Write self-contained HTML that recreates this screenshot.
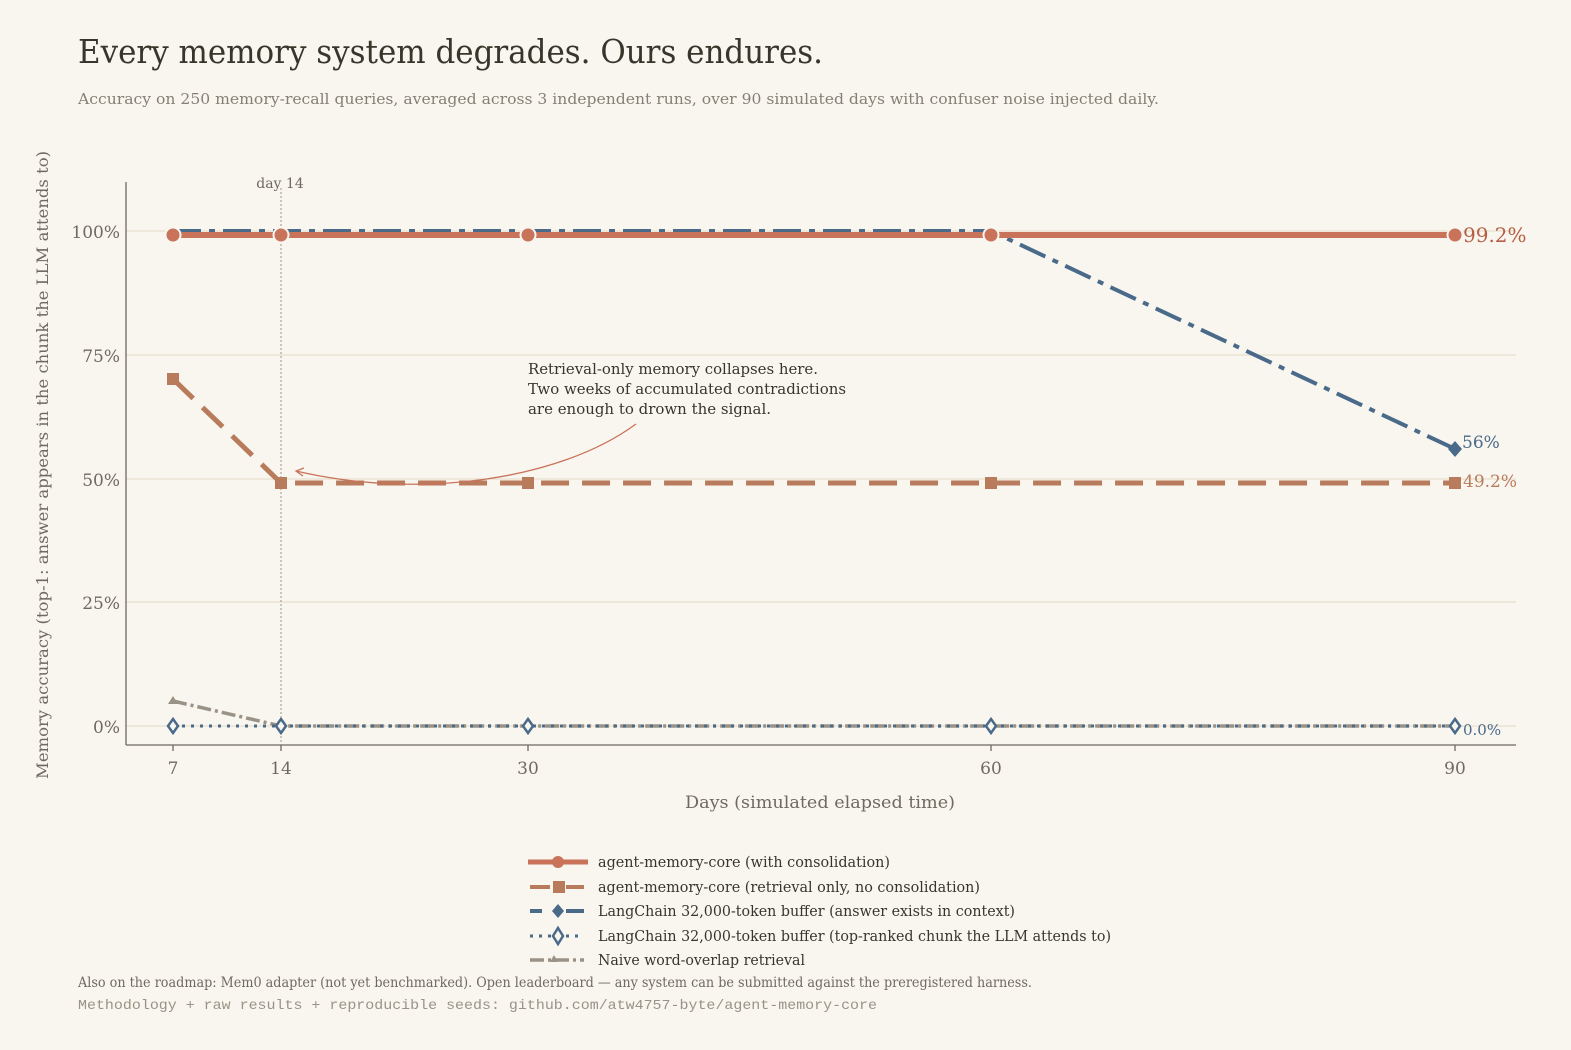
<!DOCTYPE html><html><head><style>body{margin:0;background:#f9f6ef}svg{display:block}text{font-family:"DejaVu Serif","Liberation Serif",serif}</style></head><body>
<svg width="1571" height="1050" viewBox="0 0 1571 1050" xmlns="http://www.w3.org/2000/svg">
<rect width="1571" height="1050" fill="#f9f6ef"/>
<text x="78" y="63" font-size="33" fill="#38362b" textLength="745" lengthAdjust="spacingAndGlyphs">Every memory system degrades. Ours endures.</text>
<text x="78" y="104" font-size="15" fill="#857f74" textLength="1081" lengthAdjust="spacingAndGlyphs">Accuracy on 250 memory-recall queries, averaged across 3 independent runs, over 90 simulated days with confuser noise injected daily.</text>
<g stroke="#e6dfcc" stroke-width="1.2">
<line x1="126" y1="231" x2="1516" y2="231"/><line x1="126" y1="355" x2="1516" y2="355"/><line x1="126" y1="479" x2="1516" y2="479"/><line x1="126" y1="602" x2="1516" y2="602"/><line x1="126" y1="726" x2="1516" y2="726"/>
</g>
<g stroke="#6f6a60" stroke-width="1.3"><line x1="126" y1="182" x2="126" y2="745"/><line x1="126" y1="745" x2="1516" y2="745"/>
<line x1="173" y1="745" x2="173" y2="751"/><line x1="281" y1="745" x2="281" y2="751"/><line x1="528" y1="745" x2="528" y2="751"/><line x1="991" y1="745" x2="991" y2="751"/><line x1="1455" y1="745" x2="1455" y2="751"/></g>
<g font-size="17" fill="#6f6a60" text-anchor="end"><text x="120" y="238">100%</text><text x="120" y="362">75%</text><text x="120" y="486">50%</text><text x="120" y="609">25%</text><text x="120" y="733">0%</text></g>
<g font-size="17" fill="#6f6a60" text-anchor="middle"><text x="173" y="774">7</text><text x="281" y="774">14</text><text x="528" y="774">30</text><text x="991" y="774">60</text><text x="1455" y="774">90</text>
<text x="820" y="808" textLength="270" lengthAdjust="spacingAndGlyphs">Days  (simulated elapsed time)</text></g>
<text transform="translate(48,465) rotate(-90)" font-size="16" fill="#6f6a60" text-anchor="middle" textLength="628" lengthAdjust="spacingAndGlyphs">Memory accuracy  (top-1: answer appears in the chunk the LLM attends to)</text>
<line x1="281" y1="188" x2="281" y2="745" stroke="#9a9286" stroke-width="1" stroke-dasharray="2,2"/>
<text x="280" y="188" font-size="14" fill="#6f6a60" text-anchor="middle">day 14</text>
<polyline points="173,701 281,726 528,726 991,726 1455,726" fill="none" stroke="#9a9286" stroke-width="3.5" stroke-dasharray="14,4,3,4"/>
<polygon points="173,696 178,704 168,704" fill="#9a9286"/>
<polyline points="173,726 1455,726" fill="none" stroke="#4a6a8a" stroke-width="3" stroke-dasharray="3,6"/>
<g fill="#f9f6ef" stroke="#4a6a8a" stroke-width="2.5"><polygon points="173,719 178,726 173,733 168,726"/><polygon points="281,719 286,726 281,733 276,726"/><polygon points="528,719 533,726 528,733 523,726"/><polygon points="991,719 996,726 991,733 986,726"/><polygon points="1455,719 1460,726 1455,733 1450,726"/></g>
<polyline points="173,231 281,231 528,231 991,231 1455,449" fill="none" stroke="#4a6a8a" stroke-width="4" stroke-dasharray="28,8,6,8"/>
<polygon points="1455,441 1462,449 1455,457 1448,449" fill="#4a6a8a"/>
<polyline points="173,379 281,483 528,483 991,483 1455,483" fill="none" stroke="#b87b5b" stroke-width="5" stroke-dasharray="28,13"/>
<g fill="#b87b5b"><rect x="167" y="373" width="12" height="12"/><rect x="275" y="477" width="12" height="12"/><rect x="522" y="477" width="12" height="12"/><rect x="985" y="477" width="12" height="12"/><rect x="1449" y="477" width="12" height="12"/></g>
<line x1="173" y1="235" x2="1455" y2="235" stroke="#c8735a" stroke-width="6"/>
<g fill="#c8735a" stroke="#f9f6ef" stroke-width="2"><circle cx="173" cy="235" r="7.5"/><circle cx="281" cy="235" r="7.5"/><circle cx="528" cy="235" r="7.5"/><circle cx="991" cy="235" r="7.5"/><circle cx="1455" cy="235" r="7.5"/></g>
<text x="1463" y="242" font-size="20" fill="#b55e43">99.2%</text>
<text x="1462" y="448" font-size="17" fill="#4a6a8a">56%</text>
<text x="1463" y="487" font-size="17" fill="#b87b5b">49.2%</text>
<text x="1463" y="735" font-size="15" fill="#4a6a8a">0.0%</text>
<g font-size="15" fill="#38362b"><text x="528" y="374" textLength="290" lengthAdjust="spacingAndGlyphs">Retrieval-only memory collapses here.</text><text x="528" y="394" textLength="318" lengthAdjust="spacingAndGlyphs">Two weeks of accumulated contradictions</text><text x="528" y="414" textLength="243" lengthAdjust="spacingAndGlyphs">are enough to drown the signal.</text></g>
<path d="M636,424 C560,480 420,500 296,471" fill="none" stroke="#c8735a" stroke-width="1.3"/>
<path d="M304,468 L296,471 L303,476" fill="none" stroke="#c8735a" stroke-width="1.3"/>
<g font-size="15" fill="#38362b">
<line x1="528" y1="862" x2="588" y2="862" stroke="#c8735a" stroke-width="5"/><circle cx="558" cy="862" r="6" fill="#c8735a"/><text x="598" y="867" textLength="292" lengthAdjust="spacingAndGlyphs">agent-memory-core (with consolidation)</text>
<line x1="530" y1="887" x2="550" y2="887" stroke="#b87b5b" stroke-width="4"/><line x1="566" y1="887" x2="584" y2="887" stroke="#b87b5b" stroke-width="4"/><rect x="553" y="881" width="12" height="12" fill="#b87b5b"/><text x="598" y="892" textLength="382" lengthAdjust="spacingAndGlyphs">agent-memory-core (retrieval only, no consolidation)</text>
<line x1="530" y1="911" x2="542" y2="911" stroke="#4a6a8a" stroke-width="4"/><line x1="566" y1="911" x2="584" y2="911" stroke="#4a6a8a" stroke-width="4"/><polygon points="558,904 564,911 558,918 552,911" fill="#4a6a8a"/><text x="598" y="916" textLength="417" lengthAdjust="spacingAndGlyphs">LangChain 32,000-token buffer (answer exists in context)</text>
<line x1="530" y1="936" x2="584" y2="936" stroke="#4a6a8a" stroke-width="3" stroke-dasharray="3,6"/><polygon points="558,928 563,936 558,944 553,936" fill="#f9f6ef" stroke="#4a6a8a" stroke-width="2.5"/><text x="598" y="941" textLength="513" lengthAdjust="spacingAndGlyphs">LangChain 32,000-token buffer (top-ranked chunk the LLM attends to)</text>
<line x1="530" y1="960" x2="584" y2="960" stroke="#9a9286" stroke-width="3.5" stroke-dasharray="14,4,3,4"/><polygon points="554,955 558,962 550,962" fill="#9a9286"/><text x="598" y="965" textLength="207" lengthAdjust="spacingAndGlyphs">Naive word-overlap retrieval</text>
</g>
<text x="78" y="987" font-size="14" fill="#6f6a60" textLength="954" lengthAdjust="spacingAndGlyphs">Also on the roadmap: Mem0 adapter (not yet benchmarked). Open leaderboard — any system can be submitted against the preregistered harness.</text>
<text x="78" y="1009" font-size="14" fill="#9a9286" style="font-family:'Liberation Mono',monospace" textLength="799" lengthAdjust="spacingAndGlyphs">Methodology + raw results + reproducible seeds: github.com/atw4757-byte/agent-memory-core</text>
</svg></body></html>
